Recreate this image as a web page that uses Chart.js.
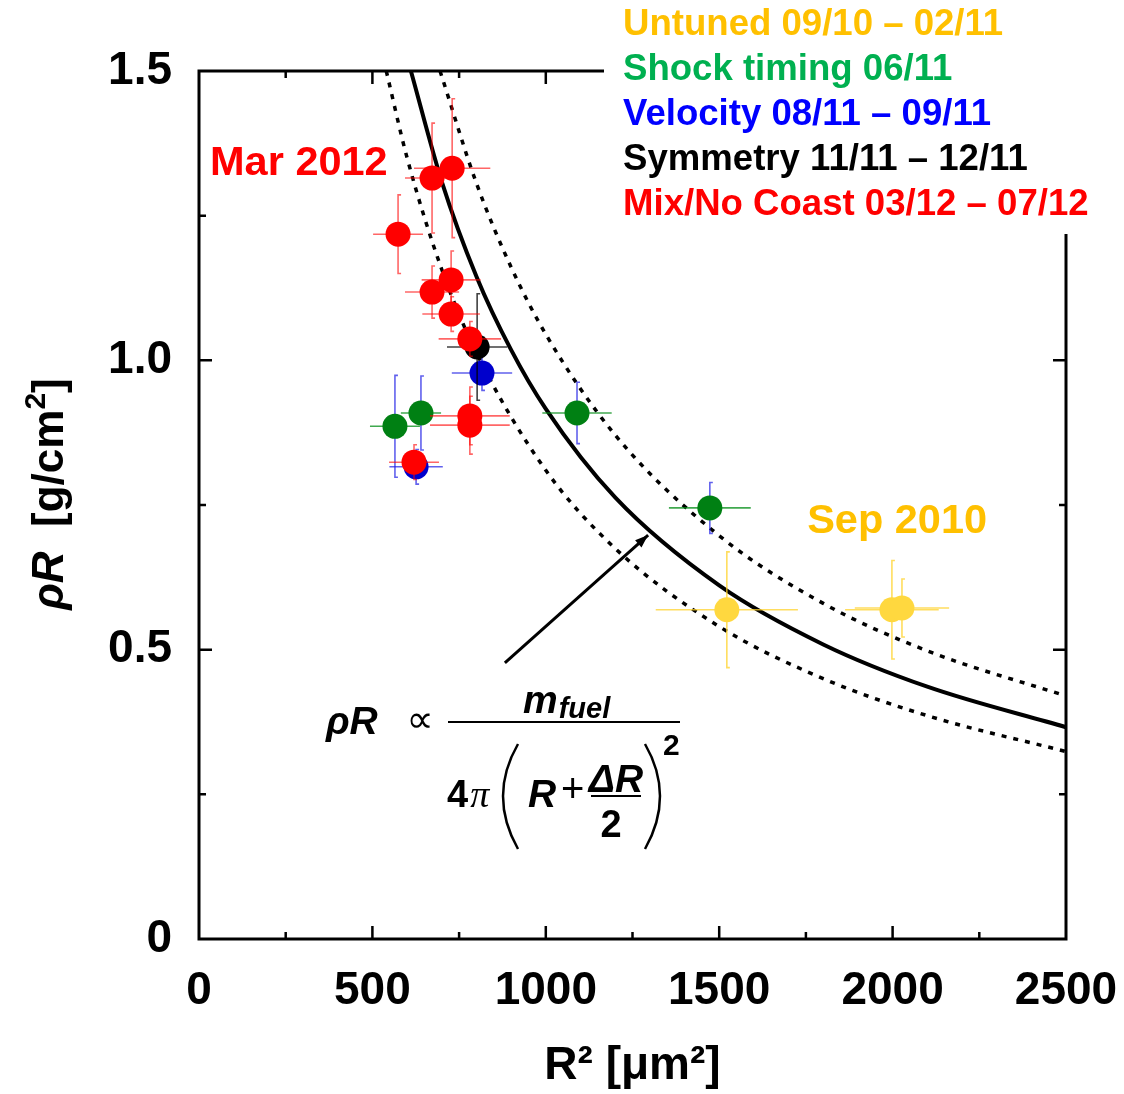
<!DOCTYPE html>
<html>
<head>
<meta charset="utf-8">
<script src="https://cdn.jsdelivr.net/npm/chart.js@4.4.1/dist/chart.umd.min.js"></script>
<style>
  html, body { margin: 0; padding: 0; background: #fff; }
  #wrap { width: 1124px; height: 1094px; }
</style>
</head>
<body>
<div id="wrap"><canvas id="rhoRChart" width="1124" height="1094"></canvas></div>
<script>
// series names (legend lines, top right)
const seriesNames = [
    'Untuned 09/10 \u2013 02/11',
    'Shock timing 06/11',
    'Velocity 08/11 \u2013 09/11',
    'Symmetry 11/11 \u2013 12/11',
    'Mix/No Coast 03/12 \u2013 07/12'
];

// R^2 [um^2], rhoR [g/cm^2] and their error bars
const untunedX = [1522, 1998, 2027];
const untunedY = [0.569, 0.569, 0.572];
const untunedXErr = [205, 135, 136];
const untunedYErr = [0.10, 0.085, 0.05];

const shockX = [565, 640, 1090, 1473];
const shockY = [0.886, 0.909, 0.909, 0.745];
const shockXErr = [72, 58, 100, 118];
const shockYErr = [0.088, 0.064, 0.053, 0.044];

const velocityX = [816, 626];
const velocityY = [0.978, 0.816];
const velocityXErr = [87, 77];
const velocityYErr = [0.03, 0.03];

const symmetryX = [802];
const symmetryY = [1.023];
const symmetryXErr = [87];
const symmetryYErr = [0.092];

const mixX = [672, 730, 574, 727, 672, 727, 781, 781, 781, 620];
const mixY = [1.315, 1.332, 1.218, 1.139, 1.118, 1.080, 1.037, 0.904, 0.888, 0.824];
const mixXErr = [78, 110, 72, 85, 78, 83, 90, 115, 115, 72];
const mixYErr = [0.095, 0.12, 0.068, 0.05, 0.045, 0.03, 0.03, 0.05, 0.05, 0.03];

// model curves (solid + dotted band)
const fitX = [611, 700, 800, 900, 1000, 1200, 1500, 1800, 2100, 2500];
const fitY = [1.5, 1.309, 1.145, 1.018, 0.916, 0.763, 0.611, 0.509, 0.436, 0.366];
const upperX = [695, 800, 900, 1000, 1200, 1500, 1800, 2100, 2500];
const upperY = [1.5, 1.306, 1.161, 1.045, 0.871, 0.697, 0.58, 0.498, 0.42];
const lowerX = [540, 600, 700, 800, 1000, 1200, 1500, 1800, 2100, 2500];
const lowerY = [1.5, 1.35, 1.157, 1.013, 0.81, 0.675, 0.54, 0.45, 0.386, 0.324];

// axis ticks
const xTickValues = [0, 500, 1000, 1500, 2000, 2500];
const xTickLabels = ['0', '500', '1000', '1500', '2000', '2500'];
const yTickValues = [0, 0.5, 1.0, 1.5];
const yTickLabels = ['0', '0.5', '1.0', '1.5'];

const legendColors = ['#FFC000', '#00B050', '#0000FF', '#000000', '#FF0000'];
const FONT = '"Liberation Sans", Arial, Helvetica, sans-serif';

function pts(xs, ys) {
    return xs.map((x, i) => ({ x: x, y: ys[i] }));
}

function tickLabel(values, labels, v) {
    const i = values.findIndex(t => Math.abs(t - v) < 1e-6);
    return i >= 0 ? labels[i] : '';
}

// error bars, drawn just under each dataset's markers
const errorBars = {
    id: 'errorBars',
    beforeDatasetDraw(chart, args) {
        const ds = chart.data.datasets[args.index];
        if (!ds.errX) return;
        const ctx = chart.ctx;
        const sx = chart.scales.x, sy = chart.scales.y;
        ctx.save();
        ctx.lineWidth = 1.6;
        ds.data.forEach((p, i) => {
            const px = sx.getPixelForValue(p.x), py = sy.getPixelForValue(p.y);
            const x0 = sx.getPixelForValue(p.x - ds.errX[i]);
            const x1 = sx.getPixelForValue(p.x + ds.errX[i]);
            const y0 = sy.getPixelForValue(p.y - ds.errY[i]);
            const y1 = sy.getPixelForValue(p.y + ds.errY[i]);
            ctx.strokeStyle = ds.errColor;
            ctx.beginPath();
            ctx.moveTo(x0, py); ctx.lineTo(x1, py);
            ctx.stroke();
            ctx.strokeStyle = ds.errYColor || ds.errColor;
            ctx.beginPath();
            ctx.moveTo(px + 3, y1); ctx.lineTo(px, y1); ctx.lineTo(px, y0); ctx.lineTo(px + 3, y0);
            ctx.stroke();
        });
        ctx.restore();
    }
};

function text(ctx, s, x, y, font, color, align) {
    ctx.font = font;
    ctx.fillStyle = color || '#000';
    ctx.textAlign = align || 'left';
    ctx.textBaseline = 'alphabetic';
    ctx.fillText(s, x, y);
    return ctx.measureText(s).width;
}

// frame, inward ticks, legend, labels, formula, arrow
const decor = {
    id: 'decor',
    afterDatasetsDraw(chart) {
        const ctx = chart.ctx;
        const a = chart.chartArea;
        const sx = chart.scales.x, sy = chart.scales.y;
        ctx.save();

        ctx.strokeStyle = '#000';
        ctx.lineWidth = 3;
        ctx.strokeRect(a.left, a.top, a.right - a.left, a.bottom - a.top);

        ctx.lineWidth = 2.5;
        sx.ticks.forEach(t => {
            if (t.value <= 0 || t.value >= 2500) return;
            const px = sx.getPixelForValue(t.value);
            const len = xTickValues.includes(t.value) ? 13 : 7;
            ctx.beginPath();
            ctx.moveTo(px, a.bottom); ctx.lineTo(px, a.bottom - len);
            ctx.moveTo(px, a.top); ctx.lineTo(px, a.top + len);
            ctx.stroke();
        });
        sy.ticks.forEach(t => {
            if (t.value <= 0 || t.value >= 1.5) return;
            const py = sy.getPixelForValue(t.value);
            const len = yTickValues.some(v => Math.abs(v - t.value) < 1e-6) ? 13 : 7;
            ctx.beginPath();
            ctx.moveTo(a.left, py); ctx.lineTo(a.left + len, py);
            ctx.moveTo(a.right, py); ctx.lineTo(a.right - len, py);
            ctx.stroke();
        });

        // legend block hides the top-right part of the frame
        ctx.fillStyle = '#fff';
        ctx.fillRect(604, 0, 1124 - 604, 234);
        seriesNames.forEach((name, i) => {
            text(ctx, name, 623, 35 + i * 45, 'bold 36.6px ' + FONT, legendColors[i]);
        });

        // campaign labels
        text(ctx, 'Mar 2012', sx.getPixelForValue(288), sy.getPixelForValue(1.346) + 15,
            'bold 41.5px ' + FONT, '#FF0000', 'center');
        text(ctx, 'Sep 2010', sx.getPixelForValue(2013), sy.getPixelForValue(0.7275) + 15,
            'bold 41.5px ' + FONT, '#FFC000', 'center');

        // y axis title
        ctx.save();
        ctx.translate(63, 494);
        ctx.rotate(-Math.PI / 2);
        ctx.font = 'italic bold 44px ' + FONT;
        const w1 = ctx.measureText('\u03C1R').width;
        ctx.font = 'bold 44px ' + FONT;
        const w2 = ctx.measureText('  [g/cm').width;
        ctx.font = 'bold 30px ' + FONT;
        const w3 = ctx.measureText('2').width;
        ctx.font = 'bold 44px ' + FONT;
        const w4 = ctx.measureText(']').width;
        let cx = -(w1 + w2 + w3 + w4) / 2;
        cx += text(ctx, '\u03C1R', cx, 0, 'italic bold 44px ' + FONT);
        cx += text(ctx, '  [g/cm', cx, 0, 'bold 44px ' + FONT);
        cx += text(ctx, '2', cx, -18, 'bold 30px ' + FONT);
        text(ctx, ']', cx, 0, 'bold 44px ' + FONT);
        ctx.restore();

        // arrow
        const ax0 = sx.getPixelForValue(882), ay0 = sy.getPixelForValue(0.477);
        const ax1 = sx.getPixelForValue(1295), ay1 = sy.getPixelForValue(0.698);
        const ang = Math.atan2(ay1 - ay0, ax1 - ax0);
        ctx.strokeStyle = '#000';
        ctx.lineWidth = 3;
        ctx.beginPath();
        ctx.moveTo(ax0, ay0); ctx.lineTo(ax1, ay1);
        ctx.stroke();
        ctx.beginPath();
        ctx.moveTo(ax1, ay1);
        ctx.lineTo(ax1 - 14 * Math.cos(ang - 0.35), ay1 - 14 * Math.sin(ang - 0.35));
        ctx.lineTo(ax1 - 14 * Math.cos(ang + 0.35), ay1 - 14 * Math.sin(ang + 0.35));
        ctx.closePath();
        ctx.fillStyle = '#000';
        ctx.fill();

        // formula, anchored at the left end of its fraction bar
        const fx = sx.getPixelForValue(718), fy = sy.getPixelForValue(0.375);
        const bi = 'italic bold 39px ' + FONT, b = 'bold 38px ' + FONT;
        text(ctx, '\u03C1R', fx - 122, fy + 12, bi);
        text(ctx, '\u221D', fx - 28, fy + 10, '38px "DejaVu Sans", ' + FONT, '#000', 'center');
        ctx.lineWidth = 2;
        ctx.beginPath();
        ctx.moveTo(fx, fy); ctx.lineTo(fx + 232, fy);
        ctx.stroke();
        const mw = text(ctx, 'm', fx + 75, fy - 9, bi);
        text(ctx, 'fuel', fx + 75 + mw + 1, fy - 4, 'italic bold 29px ' + FONT);
        const w4p = text(ctx, '4', fx - 1, fy + 85, b);
        text(ctx, '\u03C0', fx - 1 + w4p + 2, fy + 85, 'italic 38px "Liberation Serif", serif');
        ctx.lineWidth = 2.5;
        ctx.beginPath();
        ctx.moveTo(fx + 70, fy + 22);
        ctx.quadraticCurveTo(fx + 40, fy + 74, fx + 70, fy + 127);
        ctx.moveTo(fx + 197, fy + 22);
        ctx.quadraticCurveTo(fx + 227, fy + 74, fx + 197, fy + 127);
        ctx.stroke();
        text(ctx, 'R', fx + 80, fy + 85, bi);
        text(ctx, '+', fx + 113, fy + 80, '40px ' + FONT);
        text(ctx, '\u0394R', fx + 168, fy + 70, bi, '#000', 'center');
        ctx.lineWidth = 2;
        ctx.beginPath();
        ctx.moveTo(fx + 143, fy + 74); ctx.lineTo(fx + 193, fy + 74);
        ctx.stroke();
        text(ctx, '2', fx + 163, fy + 115, b, '#000', 'center');
        text(ctx, '2', fx + 215, fy + 33, 'bold 30px ' + FONT);

        ctx.restore();
    }
};

const ctx = document.getElementById('rhoRChart').getContext('2d');
new Chart(ctx, {
    type: 'scatter',
    data: {
        datasets: [
            {
                label: seriesNames[4], data: pts(mixX, mixY), order: 0,
                errX: mixXErr, errY: mixYErr, errColor: 'rgba(255,0,0,0.6)',
                pointRadius: 12.5, pointBackgroundColor: '#FF0000', pointBorderWidth: 0
            },
            {
                label: seriesNames[3], data: pts(symmetryX, symmetryY), order: 1,
                errX: symmetryXErr, errY: symmetryYErr, errColor: 'rgba(0,0,0,0.75)',
                pointRadius: 12.5, pointBackgroundColor: '#000000', pointBorderWidth: 0
            },
            {
                label: seriesNames[1], data: pts(shockX, shockY), order: 2,
                errX: shockXErr, errY: shockYErr, errColor: 'rgba(0,140,20,0.75)', errYColor: 'rgba(30,30,230,0.7)',
                pointRadius: 12.5, pointBackgroundColor: '#008013', pointBorderWidth: 0
            },
            {
                label: seriesNames[2], data: pts(velocityX, velocityY), order: 3,
                errX: velocityXErr, errY: velocityYErr, errColor: 'rgba(30,30,230,0.7)',
                pointRadius: 12.5, pointBackgroundColor: '#0000CC', pointBorderWidth: 0
            },
            {
                label: seriesNames[0], data: pts(untunedX, untunedY), order: 4,
                errX: untunedXErr, errY: untunedYErr, errColor: 'rgba(255,210,40,0.75)',
                pointRadius: 12.5, pointBackgroundColor: '#FFD83F', pointBorderWidth: 0
            },
            {
                label: 'fit', data: pts(fitX, fitY), order: 5, showLine: true,
                borderColor: '#000', borderWidth: 4, pointRadius: 0, cubicInterpolationMode: 'monotone'
            },
            {
                label: 'upper', data: pts(upperX, upperY), order: 6, showLine: true,
                borderColor: '#000', borderWidth: 3.5, borderDash: [5, 7], pointRadius: 0,
                cubicInterpolationMode: 'monotone'
            },
            {
                label: 'lower', data: pts(lowerX, lowerY), order: 7, showLine: true,
                borderColor: '#000', borderWidth: 3.5, borderDash: [5, 7], pointRadius: 0,
                cubicInterpolationMode: 'monotone'
            }
        ]
    },
    options: {
        responsive: false,
        animation: false,
        events: [],
        layout: { padding: { top: 71, right: 58, left: 0, bottom: 0 } },
        plugins: {
            legend: { display: false },
            tooltip: { enabled: false }
        },
        scales: {
            x: {
                type: 'linear', min: 0, max: 2500,
                afterFit: s => { s.height = 155; s.paddingLeft = 0; s.paddingRight = 0; },
                grid: { display: false, drawTicks: false },
                border: { display: false },
                ticks: {
                    stepSize: 250, autoSkip: false, maxRotation: 0, padding: 25,
                    color: '#000', font: { family: FONT, size: 46, weight: 'bold' },
                    callback: v => tickLabel(xTickValues, xTickLabels, v)
                },
                title: {
                    display: true, text: 'R\u00B2 [\u03BCm\u00B2]', color: '#000',
                    font: { family: FONT, size: 46, weight: 'bold' },
                    padding: { top: 0, bottom: 0 }
                }
            },
            y: {
                type: 'linear', min: 0, max: 1.5,
                afterFit: s => { s.width = 199; s.paddingTop = 0; s.paddingBottom = 0; },
                grid: { display: false, drawTicks: false },
                border: { display: false },
                ticks: {
                    stepSize: 0.25, autoSkip: false, padding: 27,
                    color: '#000', font: { family: FONT, size: 46, weight: 'bold' },
                    callback: v => tickLabel(yTickValues, yTickLabels, v)
                }
            }
        }
    },
    plugins: [errorBars, decor]
});
</script>
</body>
</html>
